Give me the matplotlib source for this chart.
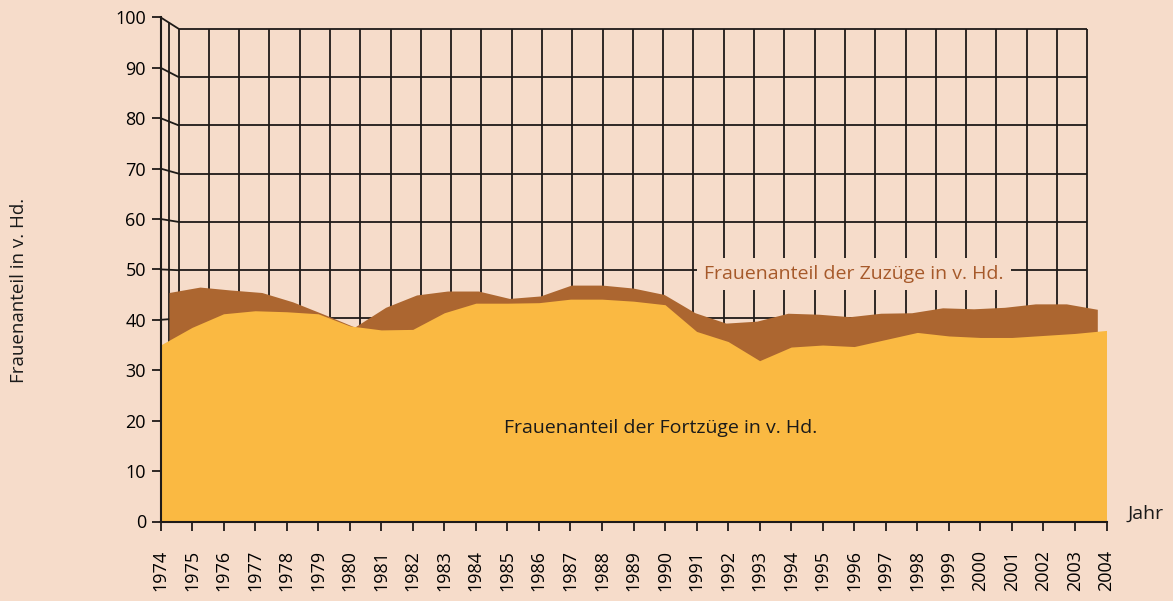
import numpy as np
import matplotlib.pyplot as plt
from matplotlib.patches import ConnectionPatch

years = list(range(1974, 2005))

# Frauenanteil der Fortzüge in v. Hd. (front series)
fortzuege = [35.0, 38.5, 41.2, 41.8, 41.6, 41.2, 38.8, 38.0, 38.1, 41.4,
             43.3, 43.3, 43.4, 44.1, 44.1, 43.7, 43.0, 37.7, 35.7, 31.9,
             34.6, 35.0, 34.7, 36.1, 37.5, 36.8, 36.5, 36.5, 36.9, 37.3, 37.9]

# Frauenanteil der Zuzüge in v. Hd. (series behind)
zuzuege = [45.4, 46.5, 45.9, 45.4, 43.5, 41.0, 38.4, 42.4, 44.9, 45.7,
           45.7, 44.2, 44.7, 46.9, 46.9, 46.3, 45.0, 41.3, 39.2, 39.6,
           41.2, 41.0, 40.5, 41.2, 41.3, 42.3, 42.1, 42.4, 43.1, 43.1, 42.0]

yticks = list(range(0, 101, 10))

bg = '#F6DCCA'
yellow = '#FAB942'
brown = '#AC6630'
gridc = '#1E1A18'

plt.rcParams['font.family'] = ['Open Sans', 'DejaVu Sans']

W, H = 1173, 601
fig = plt.figure(figsize=(W / 100, H / 100), dpi=100)
fig.patch.set_facecolor(bg)


def box(x0, ytop, x1, ybot):
    # pixel box of the reference -> figure fraction
    return [x0 / W, 1 - ybot / H, (x1 - x0) / W, (ybot - ytop) / H]


# back wall, middle plane, front plane
ax_back = fig.add_axes(box(178.5, 28.7, 1087.3, 511.7))
ax_mid = fig.add_axes(box(169.0, 23.0, 1097.3, 516.6))
ax_front = fig.add_axes(box(160.5, 17.3, 1106.5, 521.5))

for ax in (ax_back, ax_mid, ax_front):
    ax.set_xlim(years[0], years[-1])
    ax.set_ylim(0, 100)
    ax.patch.set_visible(False)

# back wall grid
for ax in (ax_back, ax_mid):
    ax.set_axis_off()
ax_back.vlines(years, 0, 100, color=gridc, lw=1.3, clip_on=False, zorder=1)
ax_back.hlines(yticks, years[0], years[-1], color=gridc, lw=1.3,
               clip_on=False, zorder=1)

# left side wall
for v in yticks:
    con = ConnectionPatch(xyA=(years[0], v), coordsA=ax_front.transData,
                          xyB=(years[0], v), coordsB=ax_back.transData,
                          color=gridc, lw=1.3)
    con.set_clip_on(False)
    ax_back.add_artist(con)
ax_mid.axvline(years[0], color=gridc, lw=1.3, clip_on=False, zorder=0.5)

ax_back.text(1996.3, 49.3, 'Frauenanteil der Zuzüge in v. Hd.', color='#A6592A',
             fontsize=14, ha='center', va='center', zorder=5,
             bbox=dict(facecolor=bg, edgecolor='none', pad=5))

# areas
ax_mid.fill_between(years, 0, zuzuege, color=brown, lw=0, zorder=1)
ax_front.fill_between(years, 0, fortzuege, color=yellow, lw=0, zorder=1)

ax_front.text(1989.87, 18.6, 'Frauenanteil der Fortzüge in v. Hd.', color='#1A1A1A',
              fontsize=14, ha='center', va='center')

# front axes
for s in ('top', 'right'):
    ax_front.spines[s].set_visible(False)
for s in ('left', 'bottom'):
    ax_front.spines[s].set_color(gridc)
    ax_front.spines[s].set_linewidth(1.5)
ax_front.set_xticks(years)
ax_front.set_xticklabels([str(y) for y in years], rotation=90, fontsize=13)
ax_front.set_yticks(yticks)
ax_front.set_yticklabels([str(v) for v in yticks], fontsize=13)
ax_front.tick_params(axis='x', direction='out', length=6.5, width=1.3,
                     color=gridc, pad=14)
ax_front.tick_params(axis='y', direction='out', length=6.5, width=1.3,
                     color=gridc, pad=4)

fig.text(19 / W, 1 - 290 / H, 'Frauenanteil in v. Hd.', rotation=90,
         fontsize=13.5, ha='center', va='center', color='#1A1A1A')
fig.text(1127 / W, 1 - 519 / H, 'Jahr', fontsize=14, ha='left',
         va='baseline', color='#1A1A1A')

fig.savefig('out.png', dpi=100, facecolor=bg)
